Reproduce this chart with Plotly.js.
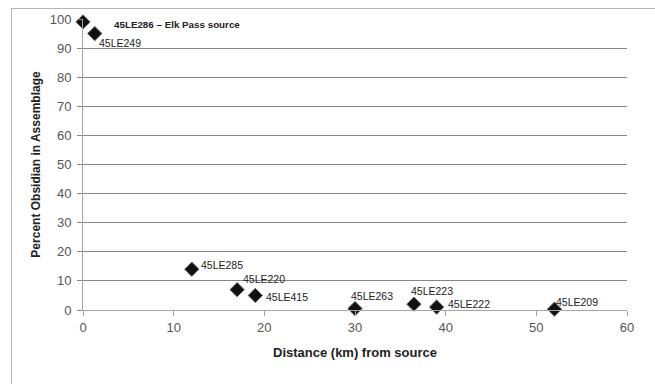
<!DOCTYPE html>
<html>
<head>
<meta charset="utf-8">
<script src="https://cdn.plot.ly/plotly-3.0.1.min.js"></script>
<style>
html,body{margin:0;padding:0;background:#fff;overflow:hidden;}
#wrap{position:relative;width:655px;height:384px;}
#frame{position:absolute;left:11px;top:8px;width:700px;height:400px;border:1px solid #b5b5b5;box-sizing:border-box;pointer-events:none;}
#chart{position:absolute;left:0;top:0;width:655px;height:384px;}
</style>
</head>
<body>
<div id="wrap">
<div id="chart"></div>
<div id="frame"></div>
</div>
<script>
// Data
var sites = ["45LE286 \u2013 Elk Pass source","45LE249","45LE285","45LE220","45LE415","45LE263","45LE223","45LE222","45LE209"];
var distanceKm = [0, 1.3, 12, 17, 19, 30, 36.5, 39, 52];
var percentObsidian = [99, 95, 14, 7, 5, 0.5, 2, 1, 0.3];
var xTicks = [0, 10, 20, 30, 40, 50, 60];
var yTicks = [0, 10, 20, 30, 40, 50, 60, 70, 80, 90, 100];

// Label offsets (pixels) relative to each point
var labelDx = [25, 3, 8, 5, 10, -5, -4, 10, 1];
var labelDy = [-3, -9.5, 4, 11, -1.5, 12.5, 13.5, 3.5, 7];
var labelBold = [true, false, false, false, false, false, false, false, false];

var trace = {
  type: 'scatter',
  mode: 'markers',
  x: distanceKm,
  y: percentObsidian,
  marker: {symbol: 'diamond', size: 11, color: '#111', line: {color: '#666', width: 1}},
  cliponaxis: false,
  hoverinfo: 'skip'
};

var annotations = sites.map(function(s, i){
  return {
    x: distanceKm[i], y: percentObsidian[i], xref: 'x', yref: 'y',
    text: labelBold[i] ? '<b>' + s + '</b>' : s,
    showarrow: false, xanchor: 'left', yanchor: 'middle',
    xshift: labelDx[i], yshift: labelDy[i],
    font: {family: 'Liberation Sans, Arial, sans-serif', size: labelBold[i] ? 9.8 : 10.5, color: '#222'},
    bgcolor: labelBold[i] ? '#fff' : 'rgba(0,0,0,0)',
    borderpad: labelBold[i] ? 5 : 0
  };
});

var layout = {
  width: 655, height: 384,
  margin: {l: 83, r: 28, t: 19, b: 74, pad: 0},
  paper_bgcolor: 'rgba(0,0,0,0)', plot_bgcolor: 'rgba(0,0,0,0)',
  showlegend: false,
  font: {family: 'Liberation Sans, Arial, sans-serif', color: '#555'},
  xaxis: {
    range: [0, 60], tickvals: xTicks, ticktext: xTicks.map(String),
    showgrid: false, zeroline: false,
    showline: true, linecolor: '#a6a6a6', linewidth: 1,
    ticks: 'outside', ticklen: 5, tickcolor: '#a6a6a6',
    tickfont: {size: 13, color: '#555'},
    title: {text: '<b>Distance (km) from source</b>', font: {size: 13, color: '#222'}, standoff: 14}
  },
  yaxis: {
    range: [0, 100], tickvals: yTicks, ticktext: yTicks.map(String),
    showgrid: true, gridcolor: '#868686', gridwidth: 1,
    zeroline: false,
    showline: true, linecolor: '#a6a6a6', linewidth: 1,
    ticks: 'outside', ticklen: 5, tickcolor: '#868686',
    tickfont: {size: 13, color: '#555'},
    ticklabelstandoff: 3,
    title: {text: '<b>Percent Obsidian in Assemblage</b>', font: {size: 12, color: '#222'}, standoff: 6}
  },
  annotations: annotations
};

Plotly.newPlot('chart', [trace], layout, {displayModeBar: false, staticPlot: true});
</script>
</body>
</html>
